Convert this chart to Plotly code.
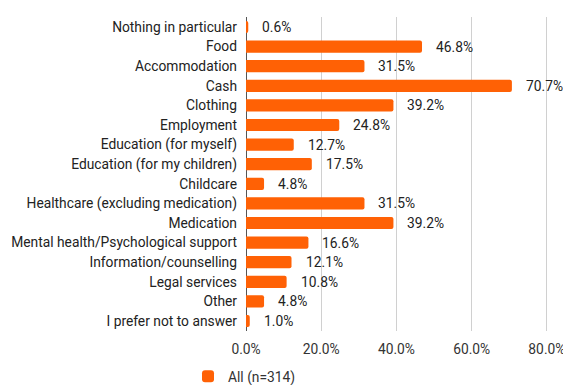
import plotly.graph_objects as go

categories = [
    "Nothing in particular", "Food", "Accommodation", "Cash", "Clothing",
    "Employment", "Education (for myself)", "Education (for my children)",
    "Childcare", "Healthcare (excluding medication)", "Medication",
    "Mental health/Psychological support", "Information/counselling",
    "Legal services", "Other", "I prefer not to answer",
]
values = [0.6, 46.8, 31.5, 70.7, 39.2, 24.8, 12.7, 17.5, 4.8, 31.5, 39.2,
          16.6, 12.1, 10.8, 4.8, 1.0]
series_name = "All (n=314)"
x_ticks = [0, 20, 40, 60, 80]
x_tick_labels = ["0.0%", "20.0%", "40.0%", "60.0%", "80.0%"]

orange = "#ff6105"
font_family = "Roboto, Arial, sans-serif"
fs = 13.8

fig = go.Figure()
fig.add_trace(go.Bar(
    y=categories, x=values, orientation="h", name=series_name,
    marker=dict(color=orange, line=dict(width=0)),
    showlegend=True,
))

# value labels placed just past each bar end
for cat, v in zip(categories, values):
    fig.add_annotation(
        x=v, y=cat, xref="x", yref="y", text=f"{v:.1f}%",
        showarrow=False, xanchor="left", xshift=12,
        font=dict(family=font_family, size=fs, color="#222222"),
    )

fig.update_layout(
    width=563, height=385,
    margin=dict(l=246, r=15, t=17, b=54, autoexpand=False),
    paper_bgcolor="white", plot_bgcolor="white",
    font=dict(family=font_family, size=fs, color="#222222"),
    bargap=0.38,
    barcornerradius=2,
    xaxis=dict(
        range=[0, 80.3], tickvals=x_ticks, ticktext=x_tick_labels,
        showgrid=True, gridcolor="#d0d0d0", gridwidth=1,
        zeroline=True, zerolinecolor="#555555", zerolinewidth=1,
        showline=False, ticks="", ticklabelstandoff=8,
        ticklabeloverflow="allow",
        tickfont=dict(size=fs, color="#333333"),
    ),
    yaxis=dict(
        autorange="reversed", showgrid=False, zeroline=False,
        showline=False, ticks="", ticklabelstandoff=8,
        tickfont=dict(size=fs, color="#222222"),
    ),
    legend=dict(
        orientation="h", x=(188 - 246) / (563 - 246 - 15), xanchor="left",
        y=-0.095, yanchor="top",
        font=dict(size=fs, color="#333333"),
    ),
)

fig.write_html("out.html")
